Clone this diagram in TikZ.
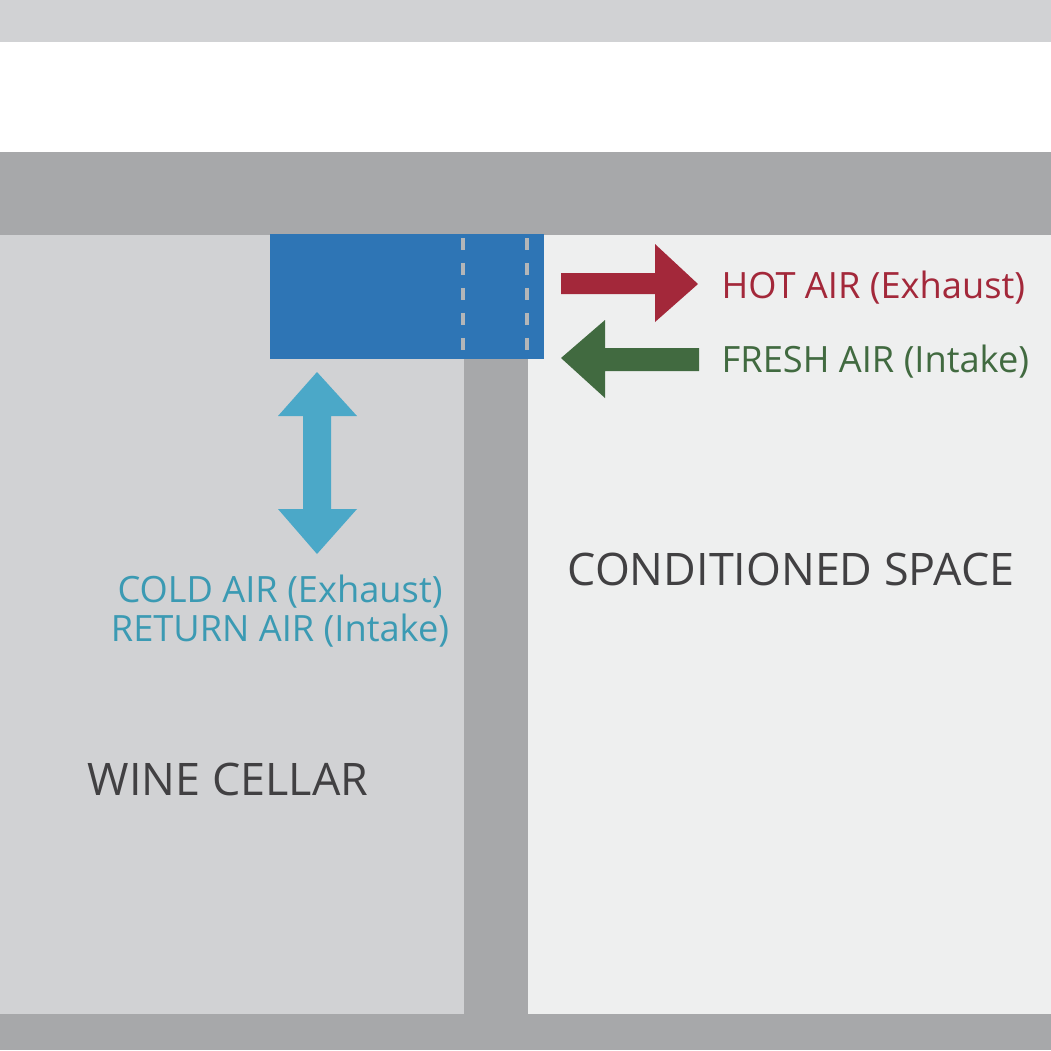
\documentclass[tikz,border=0pt]{standalone}
\usepackage{fontspec}
\setmainfont{Open Sans}
\usetikzlibrary{positioning}

\definecolor{bandgrey}{HTML}{D1D2D4}
\definecolor{wallgrey}{HTML}{A7A8AA}
\definecolor{cellargrey}{HTML}{D1D2D4}
\definecolor{roomgrey}{HTML}{EEEFEF}
\definecolor{unitblue}{HTML}{2E75B5}
\definecolor{dashgrey}{HTML}{B4B6B8}
\definecolor{hotred}{HTML}{A3283A}
\definecolor{freshgreen}{HTML}{416A40}
\definecolor{coldblue}{HTML}{4BA8C8}
\definecolor{coldtext}{HTML}{3B9AB3}
\definecolor{darktext}{HTML}{414042}

\tikzset{
  roomlabel/.style={font=\fontsize{12.75}{15}\selectfont, text=darktext, inner sep=0pt},
  airlabel/.style={font=\fontsize{10.3}{13}\selectfont, inner sep=0pt},
}

\begin{document}
\begin{tikzpicture}[x=0.01cm,y=-0.01cm]
        \useasboundingbox (0,0) rectangle (1051,1050);

        % Plafond en band bovenaan
        \fill[bandgrey] (0,0) rectangle (1051,42);
        \fill[wallgrey] (0,152) rectangle (1051,235);

        % Ruimtes
        \fill[cellargrey] (0,235) rectangle (464,1014);
        \fill[roomgrey] (528,235) rectangle (1051,1014);

        % Muur en vloer
        \fill[wallgrey] (464,235) rectangle (528,1014);
        \fill[wallgrey] (0,1014) rectangle (1051,1050);

        % Koelunit
        \fill[unitblue] (270,234) rectangle (544,359);
        \draw[dashgrey, line width=1.1pt, dash pattern=on 3.4pt off 3.7pt] (463,238) -- (463,352);
        \draw[dashgrey, line width=1.1pt, dash pattern=on 3.4pt off 3.7pt] (527,238) -- (527,352);

        % Pijlen
        \fill[hotred] (561,273) -- (655,273) -- (655,244) -- (698,284)
            -- (655,322) -- (655,294) -- (561,294) -- cycle;
        \fill[freshgreen] (699,348) -- (605,348) -- (605,320) -- (561,358)
            -- (605,398) -- (605,371) -- (699,371) -- cycle;
        \fill[coldblue] (317,372) -- (357,416) -- (331,416) -- (331,509) -- (357,509)
            -- (317,554) -- (278,509) -- (303,509) -- (303,416) -- (278,416) -- cycle;

        % Teksten
        \node[airlabel, text=hotred, anchor=base west] (hot) at (721,298) {HOT AIR (Exhaust)};
        \node[airlabel, text=freshgreen, anchor=base west] (fresh) at (721,372) {FRESH AIR (Intake)};
        \node[airlabel, text=coldtext, anchor=base] (cold) at (280,602) {COLD AIR (Exhaust)};
        \node[airlabel, text=coldtext, anchor=base] (return) at (280,641) {RETURN AIR (Intake)};
        \node[roomlabel, anchor=base] (space) at (791,585) {CONDITIONED SPACE};
        \node[roomlabel, anchor=base] (cellar) at (228,795) {WINE CELLAR};

    \end{tikzpicture}
\end{document}
